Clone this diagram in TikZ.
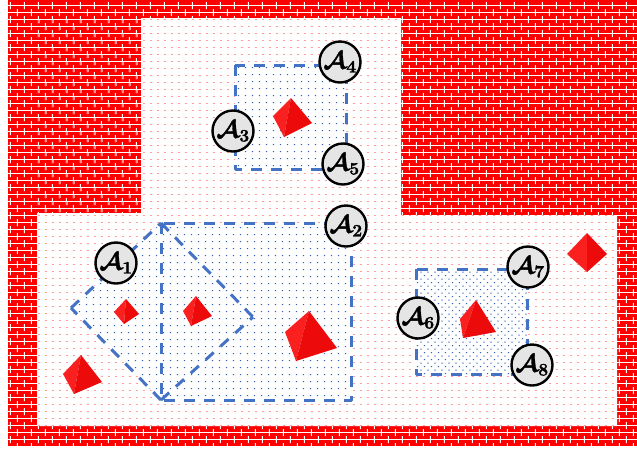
\documentclass[tikz,border=0pt]{standalone}
\usepackage{fix-cm}
\definecolor{bluedash}{HTML}{4472C4}
\definecolor{redbrick}{HTML}{FF0000}
\definecolor{redlight}{HTML}{FB2020}
\definecolor{reddark}{HTML}{EC0A0A}
\makeatletter
% grid of small rectangles, written as one low-level path per row (units: 1/10 px)
\newcount\rkR \newcount\rkC
\def\rkcol{\ifnum\rkC<\rkxend
  \xdef\rkacc{\rkacc\space\the\rkC\space\the\rkR\space\rkw\space\rkh\space re}%
  \advance\rkC by \rkdx\relax\expandafter\rkcol\fi}
\def\rkrow{\ifnum\rkR<\rkyend
  \gdef\rkacc{}\rkC=\rkxstart\relax\rkcol
  \pgfsys@invoke{q 0.099626 0 0 -0.099626 0 0 cm \rkcolor\space rg\rkacc\space f Q}%
  \advance\rkR by \rkdy\relax\expandafter\rkrow\fi}
% {x start}{y start}{x step}{y step}{w}{h}{x end}{y end}{rgb}
\newcommand\gridrects[9]{{\def\rkxstart{#1}\rkR=#2\relax\def\rkdx{#3}\def\rkdy{#4}%
  \def\rkw{#5}\def\rkh{#6}\def\rkxend{#7}\def\rkyend{#8}\def\rkcolor{#9}\rkrow}}
\newcommand\heavy[1]{\pgfsys@invoke{2 Tr 0.3 w}#1\pgfsys@invoke{0 Tr}}
\makeatother
\def\colwhite{1 1 1}
\def\colpink{1 0.56 0.56}
\def\colpinkdot{1 0.62 0.62}
\def\colblue{0.2 0.38 0.72}
\tikzset{
  agent/.style={circle,draw=black,line width=2.4pt,fill=black!10,minimum size=41pt,inner sep=0pt,font=\fontsize{25}{25}\selectfont},
  region/.style={draw=bluedash,line width=3pt,dash pattern=on 11pt off 9pt,line join=round},
  lightface/.style={fill=redlight},
  darkface/.style={fill=reddark}
}
\newcommand{\pyramid}[4]{%
  \fill[lightface] #1 -- #2 -- #3 -- cycle;
  \fill[darkface] #1 -- #3 -- #4 -- cycle;
}
\newcommand{\agentlabel}[1]{\heavy{$\mathcal{A}_{#1}$}}
\begin{document}
\begin{tikzpicture}[x=1pt,y=-1pt]
\useasboundingbox (0,0) rectangle (637,451);
\fill[white] (0,0) rectangle (637,451);
\fill[redbrick] (8,0) rectangle (637,447);
\begin{scope}
\clip (8,0) rectangle (637,447);
\gridrects{80}{50}{70}{70}{6300}{8}{81}{4500}{\colwhite}
\gridrects{100}{60}{140}{140}{10}{30}{6370}{4500}{\colwhite}
\gridrects{100}{20}{140}{140}{10}{30}{6370}{4500}{\colwhite}
\gridrects{170}{130}{140}{140}{10}{30}{6370}{4500}{\colwhite}
\gridrects{170}{90}{140}{140}{10}{30}{6370}{4500}{\colwhite}
\end{scope}
\begin{scope}
\clip (37,18) rectangle (141,213);
\gridrects{380}{200}{140}{140}{20}{30}{1410}{2130}{\colpink}
\gridrects{450}{270}{140}{140}{20}{30}{1410}{2130}{\colpink}
\end{scope}
\def\fieldshape{(141,18) -- (401,18) -- (401,215) -- (617,215) -- (617,426) -- (37,426) -- (37,213) -- (141,213) -- cycle}
\fill[white] \fieldshape;
\begin{scope}
\clip \fieldshape;
\gridrects{30}{50}{70}{70}{18}{9}{6370}{4510}{\colpinkdot}
\end{scope}
\def\topshape{(235,65) rectangle (346,169)}
\def\midshape{(161,223) -- (351,223) -- (351,400) -- (161,400) -- (71,308) -- cycle}
\def\denseshape{(416,269) rectangle (527,374)}
\fill[white] \topshape; \fill[white] \midshape; \fill[white] \denseshape;
\begin{scope}
\clip \topshape;
\gridrects{2310}{600}{70}{70}{12}{12}{3500}{1700}{\colblue}
\end{scope}
\begin{scope}
\clip \midshape;
\gridrects{650}{2200}{70}{70}{12}{12}{3560}{4050}{\colblue}
\end{scope}
\begin{scope}
\clip \denseshape;
\gridrects{4100}{2680}{70}{70}{12}{12}{5300}{3800}{\colblue}
\gridrects{4135}{2715}{70}{70}{12}{12}{5300}{3800}{\colblue}
\end{scope}
\coordinate (p1) at (161,223); \coordinate (p2) at (351,223); \coordinate (p3) at (351,400);
\coordinate (p4) at (161,400); \coordinate (p5) at (71,308); \coordinate (p6) at (253,317);
\coordinate (q1) at (235,65); \coordinate (q2) at (346,65); \coordinate (q3) at (346,169); \coordinate (q4) at (235,169);
\coordinate (s1) at (416,269); \coordinate (s2) at (527,269); \coordinate (s3) at (527,374); \coordinate (s4) at (416,374);
\draw[region] (p1) -- (p4) -- (p3) -- (p2) -- cycle;
\draw[region] (p1) -- (p6);
\draw[region] (p4) -- (p6);
\draw[region] (p4) -- (p5);
\draw[region] (p5) -- (p1);
\draw[region] (q1) -- (q4) -- (q3) -- (q2) -- cycle;
\draw[region] (s1) -- (s4) -- (s3) -- (s2) -- cycle;
\pyramid{(291,98)}{(273,116)}{(284,137)}{(312,123)}
\pyramid{(126,299)}{(114,312)}{(124,324)}{(139,314)}
\pyramid{(196,296)}{(183,311)}{(191,326)}{(212,316)}
\pyramid{(81,355)}{(63,374)}{(74,394)}{(102,382)}
\pyramid{(309,311)}{(285,332)}{(296,361)}{(337,348)}
\pyramid{(476,300)}{(460,319)}{(463,338)}{(496,332)}
\pyramid{(587,233)}{(567,254)}{(587,272)}{(607,254)}
\boldmath
\node[agent] (A1) at (116,263) {\agentlabel{1}};
\node[agent] (A2) at (346,226) {\agentlabel{2}};
\node[agent] (A3) at (233,131) {\agentlabel{3}};
\node[agent] (A4) at (340,62) {\agentlabel{4}};
\node[agent] (A5) at (343,164) {\agentlabel{5}};
\node[agent] (A6) at (418,318) {\agentlabel{6}};
\node[agent] (A7) at (528,267) {\agentlabel{7}};
\node[agent] (A8) at (532,365) {\agentlabel{8}};
\end{tikzpicture}
\end{document}
